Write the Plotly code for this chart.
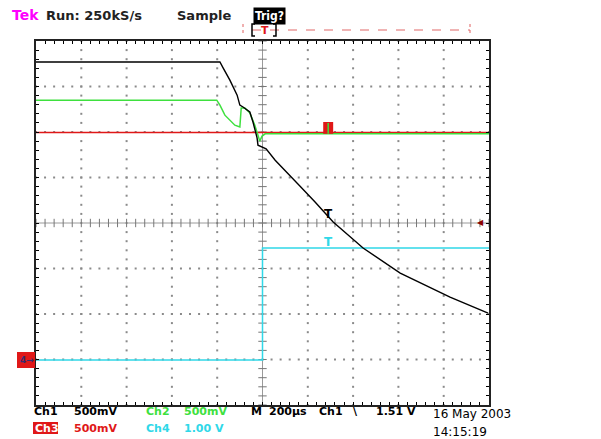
import plotly.graph_objects as go
import numpy as np

# ---- data (in screen divisions: x 0..10, y 0..8) ----
ch1_x = [0, 4.06, 4.13, 4.28, 4.44, 4.50, 4.57, 4.72, 4.79, 4.88, 4.90, 4.99, 5.08, 5.28, 5.54, 5.83, 6.16, 6.56, 7.22, 8.04, 9.14, 9.98]
ch1_y = [7.54, 7.54, 7.41, 7.14, 6.81, 6.59, 6.55, 6.44, 6.22, 5.87, 5.71, 5.67, 5.63, 5.38, 5.12, 4.81, 4.46, 4.02, 3.45, 2.90, 2.37, 2.02]

ch2_x = [0, 3.99, 4.06, 4.17, 4.39, 4.50, 4.53, 4.61, 4.72, 4.83, 4.90, 4.94, 4.99, 5.06, 10]
ch2_y = [6.70, 6.70, 6.59, 6.37, 6.15, 6.11, 6.53, 6.53, 6.42, 6.15, 5.93, 5.80, 5.91, 5.96, 5.96]

ch3_x = [0, 10]
ch3_y = [5.99, 5.99]

ch4_x = [0, 5.0, 5.0, 10]
ch4_y = [0.99, 0.99, 3.45, 3.45]

top_labels = ["Tek", "Run: 250kS/s", "Sample"]
row1_labels = ["Ch1", "500mV", "Ch2", "500mV", "M", "200\u00b5s", "Ch1", "\\", "1.51 V"]
row2_labels = ["Ch3", "500mV", "Ch4", "1.00 V"]
date_labels = ["16 May 2003", "14:15:19"]

# ---- layout geometry (pixels) ----
W, H = 601, 439
L, R, T, B = 36, 489, 41, 405
PW, PH = R - L, B - T

def px(x):
    return (x - L) / PW

def py(y):
    return (B - y) / PH

BLACK = "#000000"
GREEN = "#3ee03e"
RED = "#e01818"
CYAN = "#30d8e8"
MAGENTA = "#ff00ff"
GRIDC = "#8a8a8a"

fig = go.Figure()

# grid dots
gx, gy = [], []
for k in range(1, 10):
    if k == 5:
        continue
    for j in range(0, 41):
        gx.append(k); gy.append(j * 0.2)
for k in range(1, 8):
    if k == 4:
        continue
    for j in range(0, 51):
        gx.append(j * 0.2); gy.append(k)
fig.add_trace(go.Scatter(x=gx, y=gy, mode="markers",
                         marker=dict(size=2, color=GRIDC, symbol="square"),
                         hoverinfo="skip", showlegend=False))

# center cross lines
fig.add_trace(go.Scatter(x=[0, 10], y=[4, 4], mode="lines",
                         line=dict(color="#9a9a9a", width=1), hoverinfo="skip", showlegend=False))
fig.add_trace(go.Scatter(x=[5, 5], y=[0, 8], mode="lines",
                         line=dict(color="#9a9a9a", width=1), hoverinfo="skip", showlegend=False))
cx = [j * 0.2 for j in range(51)]
fig.add_trace(go.Scatter(x=cx, y=[4] * len(cx), mode="markers",
                         marker=dict(symbol="line-ns", size=6, line=dict(width=1, color="#777777")),
                         hoverinfo="skip", showlegend=False))
cy = [j * 0.2 for j in range(41)]
fig.add_trace(go.Scatter(x=[5] * len(cy), y=cy, mode="markers",
                         marker=dict(symbol="line-ew", size=6, line=dict(width=1, color="#777777")),
                         hoverinfo="skip", showlegend=False))

# traces
fig.add_trace(go.Scatter(x=ch3_x, y=ch3_y, mode="lines", line=dict(color=RED, width=1.5), showlegend=False))
fig.add_trace(go.Scatter(x=ch2_x, y=ch2_y, mode="lines", line=dict(color=GREEN, width=1.5), showlegend=False))
fig.add_trace(go.Scatter(x=ch4_x, y=ch4_y, mode="lines", line=dict(color=CYAN, width=1.5), showlegend=False))
fig.add_trace(go.Scatter(x=ch1_x, y=ch1_y, mode="lines", line=dict(color=BLACK, width=1.4), showlegend=False))

shapes = []
annotations = []

def text(s, x, y, color=BLACK, size=11, anchor="left", bg=None, bold=True, family="DejaVu Sans"):
    annotations.append(dict(
        text=("<b>%s</b>" % s) if bold else s,
        x=px(x), y=py(y), xref="paper", yref="paper",
        xanchor=anchor, yanchor="middle", showarrow=False,
        font=dict(family=family, size=size, color=color),
        bgcolor=bg, borderpad=0))

# top bar
text(top_labels[0], 11, 15, MAGENTA, 14, bold=True)
text(top_labels[1], 45, 15, "#222222", 13)
text(top_labels[2], 176, 15, "#222222", 13)
annotations.append(dict(text="<b>Trig?</b>", x=px(269.5), y=py(16), xref="paper", yref="paper",
                        xanchor="center", yanchor="middle", showarrow=False,
                        font=dict(family="DejaVu Sans Condensed", size=12, color="white"),
                        bgcolor=BLACK, borderpad=1))

# trigger position bar
shapes.append(dict(type="line", xref="paper", yref="paper", x0=px(252), x1=px(470), y0=py(30), y1=py(30),
                   line=dict(color="#e06868", width=1, dash="dash")))
shapes.append(dict(type="line", xref="paper", yref="paper", x0=px(243), x1=px(243), y0=py(24), y1=py(36),
                   line=dict(color="#e06060", width=1, dash="dot")))
shapes.append(dict(type="line", xref="paper", yref="paper", x0=px(470), x1=px(470), y0=py(24), y1=py(36),
                   line=dict(color="#e06060", width=1, dash="dot")))
for bx, d in [(252, 1), (276, -1)]:
    shapes.append(dict(type="path", xref="paper", yref="paper",
                       path="M %f %f L %f %f L %f %f L %f %f" % (
                           px(bx + 3 * d), py(24), px(bx), py(24), px(bx), py(36), px(bx + 3 * d), py(36)),
                       line=dict(color=BLACK, width=1.5)))
text("T", 265, 30, RED, 11, anchor="center", bold=True)

# marker boxes on screen
shapes.append(dict(type="rect", xref="x", yref="y", x0=6.34, x1=6.56, y0=5.96, y1=6.22,
                   fillcolor=RED, line=dict(width=0)))
shapes.append(dict(type="line", xref="x", yref="y", x0=6.45, x1=6.45, y0=5.96, y1=6.2,
                   line=dict(color=GREEN, width=1.5)))
annotations.append(dict(text="<b>T</b>", x=6.45, y=4.19, xref="x", yref="y", showarrow=False,
                        font=dict(family="DejaVu Sans", size=12, color=BLACK)))
annotations.append(dict(text="<b>T</b>", x=6.45, y=3.59, xref="x", yref="y", showarrow=False,
                        font=dict(family="DejaVu Sans", size=12, color=CYAN)))
annotations.append(dict(text="\u25c0", x=px(486), y=py(222), xref="paper", yref="paper", showarrow=False,
                        font=dict(family="DejaVu Sans", size=8, color="#8b0000")))
# ch4 ground marker
shapes.append(dict(type="rect", xref="paper", yref="paper", x0=px(17), x1=px(35), y0=py(368), y1=py(352),
                   fillcolor=RED, line=dict(width=0)))
text("4\u2192", 19, 360, "#3a2a6a", 9)

# bottom status lines
r1 = 411
text(row1_labels[0], 33, r1, BLACK)
text(row1_labels[1], 73, r1, BLACK)
text(row1_labels[2], 145, r1, GREEN)
text(row1_labels[3], 183, r1, GREEN)
text(row1_labels[4], 250, r1, BLACK)
text(row1_labels[5], 268, r1, BLACK)
text(row1_labels[6], 318, r1, BLACK)
text(row1_labels[7], 352, r1, BLACK)
text(row1_labels[8], 375, r1, BLACK)
r2 = 428
shapes.append(dict(type="rect", xref="paper", yref="paper", x0=px(33), x1=px(58), y0=py(434), y1=py(422),
                   fillcolor=RED, line=dict(width=0)))
text(row2_labels[0], 34, r2, "white")
text(row2_labels[1], 73, r2, RED)
text(row2_labels[2], 145, r2, CYAN)
text(row2_labels[3], 183, r2, CYAN)
text(date_labels[0], 432, 414, BLACK, 12, bold=False)
text(date_labels[1], 432, 432, BLACK, 12, bold=False)

axis_common = dict(showgrid=False, zeroline=False, showticklabels=False,
                   ticks="inside", ticklen=3, tickwidth=1, tickcolor=BLACK,
                   showline=True, linecolor="#222222", linewidth=2, mirror="ticks",
                   fixedrange=True)

fig.update_layout(
    width=W, height=H,
    margin=dict(l=L, r=W - R, t=T, b=H - B),
    paper_bgcolor="white", plot_bgcolor="white",
    xaxis=dict(range=[0, 10], dtick=0.2, tick0=0, **axis_common),
    yaxis=dict(range=[0, 8], dtick=0.2, tick0=0, **axis_common),
    shapes=shapes, annotations=annotations,
    showlegend=False,
)

fig.write_html("out.html", config={"displayModeBar": False},
               post_script="document.body.style.margin='0';document.body.style.overflow='hidden';")
